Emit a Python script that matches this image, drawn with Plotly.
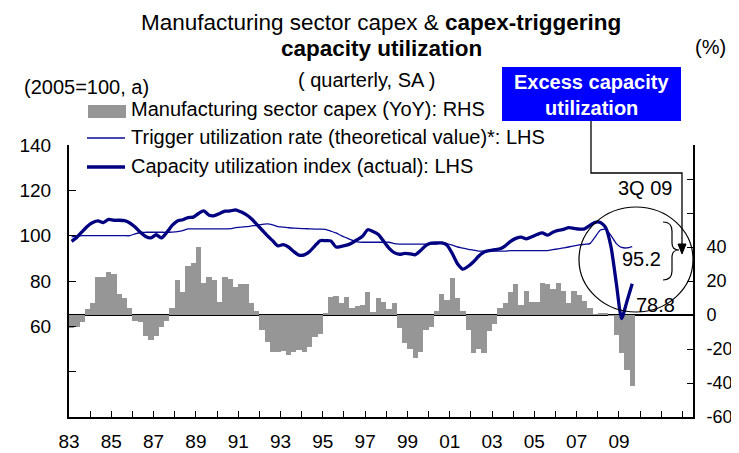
import plotly.graph_objects as go

FONT = "Liberation Sans, Arial, sans-serif"

# ---------------- data (quarterly, 1983Q1 .. 2009Q3) ----------------
start_year = 1983

# Manufacturing sector capex, YoY % (RHS)
capex_yoy = [
    -7.5, -7.3, -4.0, 3.4,       # 1983
    7.0, 22.5, 22.5, 25.3,       # 1984
    24.2, 12.4, 10.0, 4.2,       # 1985
    -3.4, -3.9, -12.1, -14.8,    # 1986
    -12.1, -7.0, -3.4, 4.2,      # 1987
    20.7, 13.6, 28.9, 30.7,      # 1988
    40.2, 18.9, 22.1, 20.8,      # 1989
    7.7, 22.5, 20.9, 16.2,       # 1990
    18.3, 18.3, 7.2, 2.5,        # 1991
    -8.7, -15.6, -21.5, -21.5,   # 1992
    -21.3, -23.3, -21.5, -20.6,  # 1993
    -21.5, -18.6, -13.2, -11.3,  # 1994
    0.9, 10.5, 10.9, 7.2,        # 1995
    10.3, 4.2, 5.4, 6.0,         # 1996
    13.7, 1.8, 10.2, 7.6,        # 1997
    3.3, 6.9, -7.5, -16.3,       # 1998
    -19.8, -25.0, -21.6, -8.8,   # 1999
    -6.9, 2.4, 12.2, 8.8,        # 2000
    22.0, 9.8, 2.4, -8.8,        # 2001
    -22.2, -20.2, -22.2, -9.4,   # 2002
    -5.5, 3.9, 6.9, 13.5,        # 2003
    18.0, 6.0, 14.1, 7.6,        # 2004
    7.6, 18.6, 18.2, 15.5,       # 2005
    18.6, 14.1, 7.3, 13.9,       # 2006
    12.0, 8.0, 4.0, 0.3,         # 2007
    0.8, 0.8, -0.3, -11.6,       # 2008
    -22.1, -32.2, -41.5,         # 2009
]

# Trigger utilization rate (theoretical value), 2005=100 (LHS)
trigger_rate = [
    99.5, 99.8, 100.0, 100.0,
    100.0, 100.0, 100.0, 100.0,
    100.0, 100.0, 100.0, 100.0,
    100.8, 101.4, 101.5, 101.5,
    101.5, 101.5, 101.5, 101.6,
    101.8, 102.2, 103.0, 103.0,
    103.0, 103.0, 103.0, 103.0,
    103.0, 103.0, 103.1, 103.5,
    103.8, 104.0, 104.3, 104.6,
    105.0, 105.2, 104.8, 104.0,
    103.8, 103.5, 103.3, 103.2,
    103.1, 103.0, 102.9, 102.9,
    102.8, 102.0, 101.2, 100.0,
    99.0, 98.0, 97.3, 97.1,
    97.1, 97.1, 97.1, 97.1,
    97.1, 96.5, 96.3, 96.3,
    96.3, 96.3, 96.3, 96.3,
    96.3, 96.3, 97.0, 96.5,
    95.8, 95.0, 94.5, 94.0,
    93.6, 93.2, 93.2, 93.2,
    93.2, 93.2, 93.2, 93.4,
    93.4, 93.4, 93.4, 93.4,
    93.4, 93.4, 93.4, 93.8,
    94.2, 94.6, 95.0, 95.5,
    95.9, 96.2, 96.5, 99.5,
    102.5, 102.8, 100.0, 96.5,
    94.8, 94.6, 95.2,
]

# Capacity utilization index (actual), 2005=100 (LHS)
cap_util = [
    97.5, 99.3, 101.8, 104.2,
    105.8, 106.5, 105.8, 107.2,
    106.8, 106.8, 106.6, 105.6,
    103.8, 101.5, 99.6, 99.0,
    100.4, 99.0, 101.5, 104.5,
    106.5, 107.0, 108.0, 108.2,
    109.8, 110.9, 109.0, 108.8,
    109.8, 110.8, 110.9, 111.4,
    110.5, 109.3, 107.5, 105.0,
    102.5, 100.0, 97.8, 95.5,
    96.0, 95.0, 93.0, 91.4,
    91.5, 93.0, 95.5, 97.8,
    97.8, 97.7, 95.0, 95.3,
    95.8, 96.8, 98.2, 99.7,
    102.6, 101.8, 100.5, 97.5,
    94.5, 92.5, 91.8, 92.2,
    92.0, 91.6, 93.5, 95.7,
    96.7, 96.8, 96.8, 95.8,
    92.0, 87.5, 85.2, 86.5,
    88.5, 91.0, 92.8, 93.4,
    93.8, 94.2, 95.5, 97.5,
    98.8, 99.4, 98.6, 99.5,
    100.5, 101.2, 100.2, 101.5,
    102.3, 102.8, 103.5, 103.2,
    102.9, 103.0, 104.5, 105.9,
    105.8, 103.5, 95.0, 79.0,
    63.4, 71.0, 78.8,
]

x_tick_years = list(range(1983, 2013))
x_tick_text = ["83", "", "85", "", "87", "", "89", "", "91", "", "93", "", "95", "",
               "97", "", "99", "", "01", "", "03", "", "05", "", "07", "", "09",
               "", "", "", ""]
lhs_ticks = [20, 40, 60, 80, 100, 120, 140]
lhs_text = ["", "", "60", "80", "100", "120", "140"]
rhs_ticks = [-60, -40, -20, 0, 20, 40, 60, 80, 100]
rhs_text = ["-60", "-40", "-20", "0", "20", "40", "", "", ""]

legend_names = [
    "Manufacturing sector capex (YoY): RHS",
    "Trigger utilization rate (theoretical value)*: LHS",
    "Capacity utilization index (actual): LHS",
]

# quarter centres on a continuous year axis
x_q = [start_year + 0.25 * i + 0.125 for i in range(len(capex_yoy))]

BAR_C = "#969696"
THICK_C = "#000080"
THIN_C = "#0a0a96"

fig = go.Figure()
fig.add_trace(go.Bar(x=x_q, y=capex_yoy, width=0.25, marker=dict(color=BAR_C, line=dict(width=0)),
                     yaxis="y", name=legend_names[0], showlegend=False))
fig.add_trace(go.Scatter(x=x_q[:len(trigger_rate)], y=trigger_rate, mode="lines", yaxis="y2",
                         line=dict(color=THIN_C, width=1.3, shape="spline", smoothing=0.6),
                         name=legend_names[1], showlegend=False))
fig.add_trace(go.Scatter(x=x_q[:len(cap_util)], y=cap_util, mode="lines", yaxis="y2",
                         line=dict(color=THICK_C, width=3.3, shape="spline", smoothing=0.6),
                         name=legend_names[2], showlegend=False))

# The page shows the figure offset by the body margin (8 px); lay out in window pixels.
OFF = 8
W, H = 739 - OFF, 453 - OFF
# plot area in window pixels: x 69..693, y 145..417
L, R, T, B = 69, 693, 145, 417
def X(px):
    return (px - L) / (R - L)
def Y(py):
    return (B - py) / (B - T)

tickfont = dict(family=FONT, size=19, color="black")
fig.update_layout(
    width=W, height=H,
    margin=dict(l=L - OFF, r=W - (R - OFF), t=T - OFF, b=H - (B - OFF), pad=0, autoexpand=False),
    paper_bgcolor="white", plot_bgcolor="white",
    bargap=0, showlegend=False,
    font=dict(family=FONT, color="black"),
    xaxis=dict(range=[1983, 2012.5], tickmode="array", tickvals=x_tick_years, ticktext=x_tick_text,
               ticks="inside", ticklen=6, tickwidth=1, tickcolor="black", automargin=False,
               showline=True, linecolor="black", linewidth=2, showgrid=False, zeroline=False,
               tickfont=tickfont, ticklabelstandoff=6),
    yaxis=dict(side="right", range=[-60, 100], tickmode="array", tickvals=rhs_ticks, ticktext=rhs_text,
               ticks="inside", ticklen=6, tickwidth=1, tickcolor="black", automargin=False,
               showline=True, linecolor="black", linewidth=2, showgrid=False,
               zeroline=True, zerolinecolor="black", zerolinewidth=2,
               tickfont=dict(family=FONT, size=18, color="black"), ticklabelstandoff=8),
    yaxis2=dict(side="left", overlaying="y", range=[20, 140], tickmode="array", tickvals=lhs_ticks,
                ticktext=lhs_text, ticks="inside", ticklen=7, tickwidth=1, tickcolor="black",
                automargin=False,
                showline=True, linecolor="black", linewidth=2, showgrid=False, zeroline=False,
                tickfont=tickfont, ticklabelstandoff=12),
)

shapes = []
# legend symbols
shapes.append(dict(type="rect", xref="paper", yref="paper", x0=X(88), x1=X(126), y0=Y(118), y1=Y(105),
                   fillcolor=BAR_C, line=dict(width=0)))
shapes.append(dict(type="line", xref="paper", yref="paper", x0=X(87), x1=X(125), y0=Y(138), y1=Y(138),
                   line=dict(color=THIN_C, width=1.5)))
shapes.append(dict(type="line", xref="paper", yref="paper", x0=X(87), x1=X(125), y0=Y(167), y1=Y(167),
                   line=dict(color=THICK_C, width=3.5)))
# blue callout box
shapes.append(dict(type="rect", xref="paper", yref="paper", x0=X(502), x1=X(681), y0=Y(121), y1=Y(67),
                   fillcolor="#0000ff", line=dict(width=0)))
# connector
path = "M {},{} L {},{} L {},{} L {},{}".format(X(591), Y(121), X(591), Y(173), X(682), Y(173), X(682), Y(246))
shapes.append(dict(type="path", xref="paper", yref="paper", path=path, line=dict(color="black", width=1.3)))
head = "M {},{} L {},{} L {},{} Z".format(X(678), Y(244), X(686), Y(244), X(682), Y(254))
shapes.append(dict(type="path", xref="paper", yref="paper", path=head, fillcolor="black",
                   line=dict(color="black", width=1)))
# circle
shapes.append(dict(type="circle", xref="paper", yref="paper", x0=X(579), x1=X(693), y0=Y(312), y1=Y(207),
                   line=dict(color="black", width=1.2)))
# brace
brace = ("M {},{} Q {},{} {},{} L {},{} Q {},{} {},{} Q {},{} {},{} L {},{} Q {},{} {},{}").format(
    X(663), Y(222), X(672), Y(222), X(672), Y(231),
    X(672), Y(243),
    X(672), Y(250), X(679), Y(250),
    X(672), Y(250), X(672), Y(257),
    X(672), Y(271),
    X(672), Y(280), X(663), Y(280))
shapes.append(dict(type="path", xref="paper", yref="paper", path=brace, line=dict(color="black", width=1.2)))
fig.update_layout(shapes=shapes)

def ann(text, px, py, size=20, color="black", xanchor="center"):
    fig.add_annotation(text=text, x=X(px), y=Y(py), xref="paper", yref="paper", showarrow=False,
                       xanchor=xanchor, yanchor="middle", font=dict(family=FONT, size=size, color=color))

ann("Manufacturing sector capex &amp; <b>capex-triggering</b>", 381, 22, size=22.5)
ann("<b>capacity utilization</b>", 381, 49, size=22.5)
ann("(%)", 711, 47)
ann("(2005=100, a)", 86, 87)
ann("( quarterly, SA )", 366, 80)
ann("<b>Excess capacity</b>", 591, 82, size=20, color="white")
ann("<b>utilization</b>", 591, 108, size=20, color="white")
ann(legend_names[0], 129, 109, xanchor="left")
ann(legend_names[1], 129, 137, xanchor="left")
ann(legend_names[2], 129, 166, xanchor="left")
ann("3Q 09", 645, 188)
ann("95.2", 641, 259)
ann("78.8", 655, 305)

fig.write_html("out.html")
